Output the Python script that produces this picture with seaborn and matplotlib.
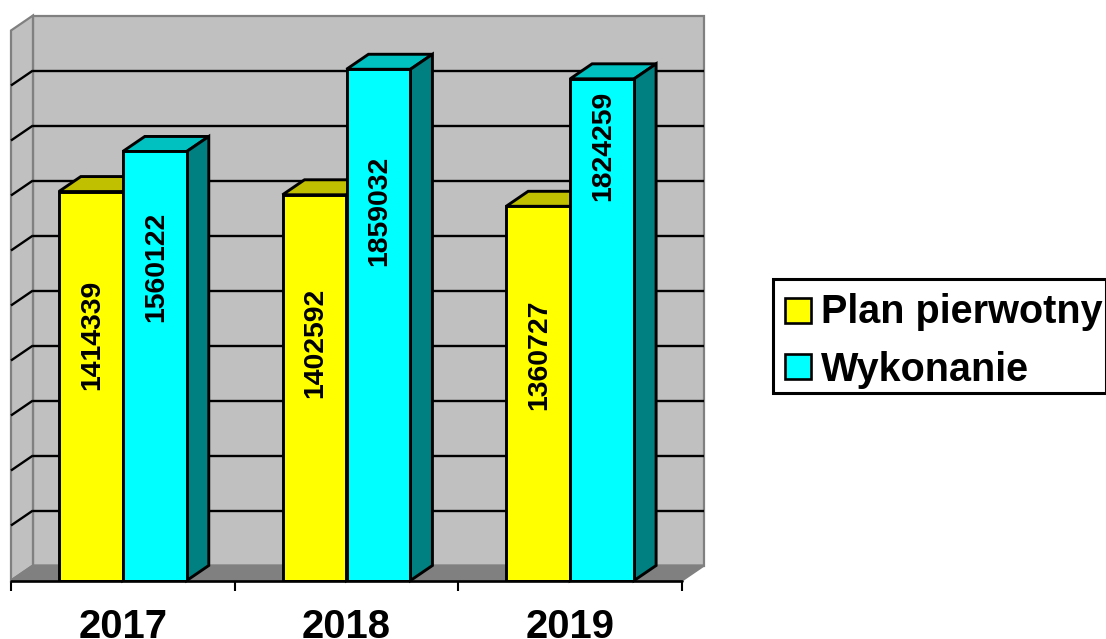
#!/usr/bin/env python3
# -*- coding: utf-8 -*-

import pandas as pd
import matplotlib
matplotlib.use("Agg")
import matplotlib.pyplot as plt
from matplotlib.patches import Polygon, Rectangle
import seaborn as sns

lata = ["2017", "2018", "2019"]
plan_pierwotny = [1414339, 1402592, 1360727]
wykonanie = [1560122, 1859032, 1824259]
serie = ["Plan pierwotny", "Wykonanie"]

Y_MAX = 2000000
Y_STEP = 200000

# heights at which the rotated labels are centred (they are not regular in the original)
poz_plan = [894500, 865500, 821800]
poz_wyk = [1141800, 1345500, 1581800]

sns.set_theme(style="white")
plt.rcParams['font.family'] = ['Liberation Sans', 'DejaVu Sans']

W, H = 1106, 639
fig = plt.figure(figsize=(W / 100, H / 100), dpi=100, facecolor="white")
# front plane of the fake 3D box, in pixels
ax = fig.add_axes([11 / W, 1 - 580.5 / H, 671 / W, 550 / H])

df = pd.DataFrame({
    "rok": lata * 2,
    "seria": [serie[0]] * 3 + [serie[1]] * 3,
    "wartosc": plan_pierwotny + wykonanie,
})

sns.barplot(data=df, x="rok", y="wartosc", hue="seria", order=lata, hue_order=serie,
            palette=["#ffff00", "#00ffff"], width=0.572, saturation=1,
            edgecolor="black", linewidth=2.1, legend=False, zorder=5, ax=ax)

ax.set_xlim(-0.5, 2.5)
ax.set_ylim(0, Y_MAX)

# depth of the box in data units
dx = 22 / 224
dy = 15 / 550 * Y_MAX


def poly(points, color, zorder, edge="black", lw=2.1):
    ax.add_patch(Polygon(points, closed=True, facecolor=color, edgecolor=edge,
                         linewidth=lw, zorder=zorder, clip_on=False))


# walls and floor
x0, x1 = -0.5, 2.5
poly([(x0 + dx, dy), (x1 + dx, dy), (x1 + dx, Y_MAX + dy), (x0 + dx, Y_MAX + dy)], "#c0c0c0", 1, "#808080", 1.6)
poly([(x0, 0), (x0 + dx, dy), (x0 + dx, Y_MAX + dy), (x0, Y_MAX)], "#c0c0c0", 1.5, "#808080", 1.6)
poly([(x0, 0), (x1, 0), (x1 + dx, dy), (x0 + dx, dy)], "#808080", 1.5, "#808080", 1.6)

# gridlines on the back wall and on the side wall
for v in range(Y_STEP, Y_MAX, Y_STEP):
    ax.plot([x0 + dx, x1 + dx], [v + dy, v + dy], color="black", lw=1.7, zorder=2,
            clip_on=False, solid_capstyle="butt")
    ax.plot([x0, x0 + dx], [v, v + dy], color="black", lw=1.7, zorder=2,
            clip_on=False, solid_capstyle="butt")

# tops and sides of the bars
ciemne = {"#ffff00": "#c0c000", "#00ffff": "#00c0c0"}
boki = {"#ffff00": "#808000", "#00ffff": "#008080"}
kolory = ["#ffff00"] * 3 + ["#00ffff"] * 3
wartosci = plan_pierwotny + wykonanie
pozycje = poz_plan + poz_wyk
slupki = [p for p in ax.patches if isinstance(p, Rectangle) and p.get_zorder() == 5]
slupki = [p for p in slupki if p.get_height() > 0]
for p, kolor, val, poz in zip(slupki, kolory, wartosci, pozycje):
    a = p.get_x()
    b = a + p.get_width()
    h = p.get_height()
    poly([(a, h), (b, h), (b + dx, h + dy), (a + dx, h + dy)], ciemne[kolor], 4)
    poly([(b, 0), (b + dx, dy), (b + dx, h + dy), (b, h)], boki[kolor], 4)
    ax.text((a + b) / 2 + 0.005, poz, str(val), rotation=90,
            ha="center", va="center", fontsize=20.4, fontweight="bold", color="black", zorder=6)

# axis below the box
for s in ax.spines.values():
    s.set_visible(False)
ax.set_xlabel("")
ax.set_ylabel("")
ax.set_yticks([])
ax.set_xticks([-0.5, 0.5, 1.5, 2.5], minor=True)
ax.tick_params(axis="x", which="minor", length=7.2, width=1.5, color="black", bottom=True, direction="out")
ax.tick_params(axis="x", which="major", length=0, pad=19.5)
ax.set_xticks([0, 1, 2], lata)
for t in ax.get_xticklabels():
    t.set_fontsize(28.8)
    t.set_fontweight("bold")
    t.set_color("black")
ax.plot([x0, x1], [0, 0], color="black", lw=1.9, zorder=7, clip_on=False)

# legend drawn as a box in figure pixels
fig.add_artist(Rectangle((773 / W, 1 - 393 / H), 333 / W, 114 / H, transform=fig.transFigure,
                         facecolor="white", edgecolor="black", linewidth=2.2))
for nazwa, kolor, yc, base in zip(serie, ["#ffff00", "#00ffff"], [310, 366], [323, 381]):
    fig.add_artist(Rectangle((785 / W, 1 - (yc + 12.5) / H), 26 / W, 25 / H, transform=fig.transFigure,
                             facecolor=kolor, edgecolor="black", linewidth=1.9))
    fig.text(821 / W, 1 - base / H, nazwa, ha="left", va="baseline", fontsize=28.5,
             fontweight="bold", color="black")

plt.savefig("out.png", dpi=100, facecolor="white")
